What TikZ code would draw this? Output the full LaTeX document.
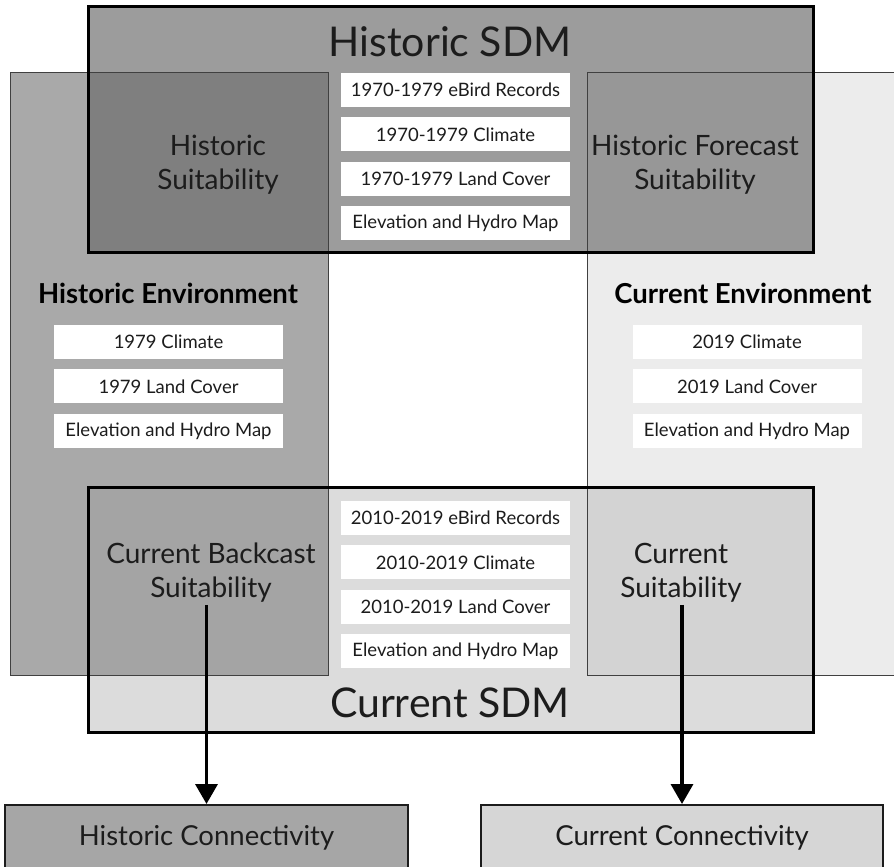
\documentclass[tikz,border=0pt]{standalone}
\usepackage{fontspec}
\setmainfont{Lato}
\usepackage{tikz}
\usetikzlibrary{arrows.meta,positioning,calc}
\usepackage{xcolor}

\definecolor{hsdmgray}{HTML}{9C9C9C}
\definecolor{henvgray}{HTML}{A9A9A9}
\definecolor{hovgray}{HTML}{7F7F7F}
\definecolor{fovgray}{HTML}{979797}
\definecolor{cenvgray}{HTML}{ECECEC}
\definecolor{csdmgray}{HTML}{DCDCDC}
\definecolor{bovgray}{HTML}{A4A4A4}
\definecolor{covgray}{HTML}{D3D3D3}
\definecolor{hconngray}{HTML}{A6A6A6}
\definecolor{cconngray}{HTML}{D6D6D6}
\definecolor{inkgray}{HTML}{1C1C1C}

\tikzset{
    bigbox/.style={anchor=north west, inner sep=0pt, outer sep=0pt},
    databox/.style={fill=white, minimum width=229pt, minimum height=34pt, inner sep=0pt,
        text=inkgray, font=\fontsize{18.5}{22}\selectfont},
    sdmtitle/.style={text=inkgray, font=\fontsize{41}{44}\selectfont},
    envtitle/.style={text=black, font=\bfseries\fontsize{27.5}{30}\selectfont},
    suitlabel/.style={text=inkgray, align=center, inner sep=2pt, font=\fontsize{28}{34}\selectfont},
    connbox/.style={draw=inkgray, line width=2pt, minimum width=403pt, minimum height=66pt,
        text=inkgray, font=\fontsize{27.5}{30}\selectfont},
    flow/.style={line width=3.5pt, -{Triangle[width=22pt,length=20pt]}}
}

\begin{document}
\begin{tikzpicture}[x=1pt, y=-1pt]
    \fill[white] (0,0) rectangle (894,867);
    \useasboundingbox (0,0) rectangle (894,867);

    % 环境与模型区域
    \node[bigbox, fill=henvgray, minimum width=318pt, minimum height=602pt] (henv) at (10,73) {};
    \node[bigbox, fill=cenvgray, minimum width=320pt, minimum height=602pt] (cenv) at (587,73) {};
    \node[bigbox, fill=hsdmgray, minimum width=725pt, minimum height=245pt] (hsdm) at (88,7) {};
    \node[bigbox, fill=csdmgray, minimum width=725pt, minimum height=245pt] (csdm) at (88,487) {};

    % 重叠区域
    \fill[hovgray] (hsdm.south west) rectangle (henv.north east);
    \fill[fovgray] (cenv.north west) rectangle (hsdm.south east);
    \fill[bovgray] (csdm.north west) rectangle (henv.south east);
    \fill[covgray] (cenv.south west) rectangle (csdm.north east);

    % 边框
    \draw[line width=1pt, draw=black!75] (henv.north west) rectangle (henv.south east);
    \draw[line width=1pt, draw=black!75] (cenv.north west) rectangle (cenv.south east);
    \draw[line width=3pt, draw=black] (hsdm.north west) rectangle (hsdm.south east);
    \draw[line width=3pt, draw=black] (csdm.north west) rectangle (csdm.south east);

    % 历史模型输入
    \node[sdmtitle] (hsdmtitle) at (450,42) {Historic SDM};
    \node[databox] (h1) at (455.5,90) {1970-1979 eBird Records};
    \node[databox, below=10pt of h1] (h2) {1970-1979 Climate};
    \node[databox, below=10pt of h2] (h3) {1970-1979 Land Cover};
    \node[databox, below=10pt of h3] (h4) {Elevation and Hydro Map};

    % 环境输入
    \node[envtitle] (henvtitle) at (168,293) {Historic Environment};
    \node[databox] (he1) at (168.5,342) {1979 Climate};
    \node[databox, below=10pt of he1] (he2) {1979 Land Cover};
    \node[databox, below=10pt of he2] (he3) {Elevation and Hydro Map};

    \node[envtitle] (cenvtitle) at (743,293) {Current Environment};
    \node[databox] (ce1) at (747,342) {2019 Climate};
    \node[databox, below=10pt of ce1] (ce2) {2019 Land Cover};
    \node[databox, below=10pt of ce2] (ce3) {Elevation and Hydro Map};

    % 当前模型输入
    \node[databox] (c1) at (455.5,518) {2010-2019 eBird Records};
    \node[databox, below=10pt of c1] (c2) {2010-2019 Climate};
    \node[databox, below=10pt of c2] (c3) {2010-2019 Land Cover};
    \node[databox, below=10pt of c3] (c4) {Elevation and Hydro Map};
    \node[sdmtitle] (csdmtitle) at (450,703) {Current SDM};

    % 适宜性
    \node[suitlabel] (hsuit) at (218,165) {Historic\\Suitability};
    \node[suitlabel] (fsuit) at (695,165) {Historic Forecast\\Suitability};
    \node[suitlabel] (bsuit) at (211,573) {Current Backcast\\Suitability};
    \node[suitlabel] (csuit) at (681,573) {Current\\Suitability};

    % 连通性
    \node[connbox, fill=hconngray] (hconn) at (206.5,838) {Historic Connectivity};
    \node[connbox, fill=cconngray, minimum width=402pt] (cconn) at (682,838) {Current Connectivity};

    \draw[flow] (hconn.north |- bsuit.south) -- (hconn.north);
    \draw[flow] (cconn.north |- csuit.south) -- (cconn.north);
\end{tikzpicture}
\end{document}
